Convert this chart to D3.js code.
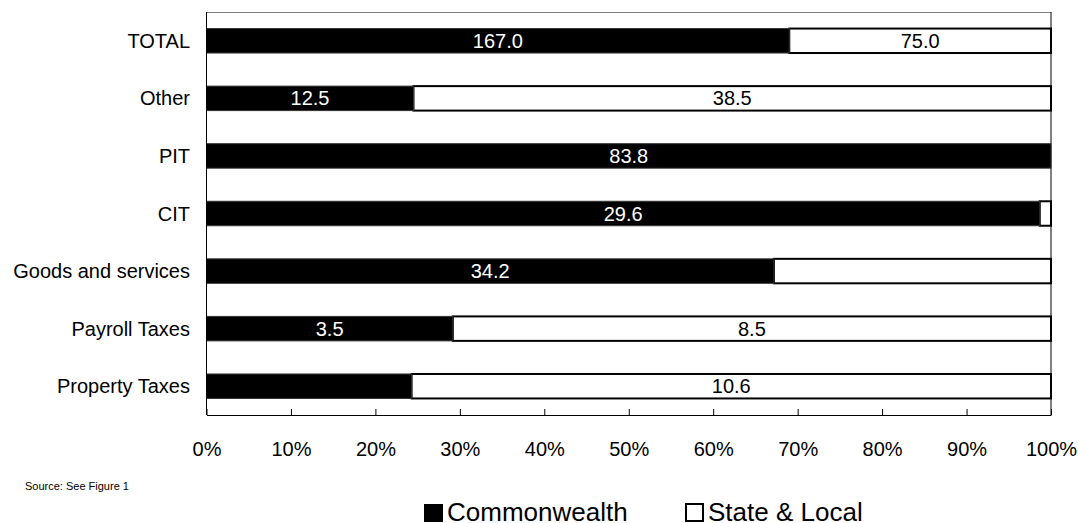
<!DOCTYPE html>
<html>
<head>
<meta charset="utf-8">
<script src="https://cdn.jsdelivr.net/npm/d3@7"></script>
<style>
  html, body { margin: 0; padding: 0; background: #fff; }
  svg { display: block; font-family: "Liberation Sans", Arial, sans-serif; }
</style>
</head>
<body>
<svg id="chart" width="1078" height="523"></svg>
<script>
// categories, top to bottom
var categories = ["TOTAL", "Other", "PIT", "CIT", "Goods and services", "Payroll Taxes", "Property Taxes"];
// revenue by level of government
var commonwealth = [167.0, 12.5, 83.8, 29.6, 34.2, 3.5, 3.4];
var stateLocal = [75.0, 38.5, 0.0, 0.4, 16.7, 8.5, 10.6];
// value labels shown on the bars (blank = not shown)
var comLabels = ["167.0", "12.5", "83.8", "29.6", "34.2", "3.5", ""];
var stateLabels = ["75.0", "38.5", "", "", "", "8.5", "10.6"];
var ticks = [0, 0.1, 0.2, 0.3, 0.4, 0.5, 0.6, 0.7, 0.8, 0.9, 1];
var seriesNames = ["Commonwealth", "State & Local"];

var svg = d3.select("#chart");
// plot box
var pLeft = 206.5, pRight = 1051, pTop = 12, pBottom = 415;

var x = d3.scaleLinear().domain([0, 1]).range([pLeft, pRight]);
var y = d3.scaleBand().domain(categories).range([pTop, pBottom])
  .paddingInner(0.575).paddingOuter(0.2875);

// build stacked shares
var rows = categories.map(function(c, i) {
  var tot = commonwealth[i] + stateLocal[i];
  return {
    cat: c,
    com: commonwealth[i] / tot,
    comLabel: comLabels[i],
    stLabel: stateLabels[i]
  };
});

// frame: top and right borders
svg.append("line").attr("x1", pLeft).attr("x2", pRight).attr("y1", pTop + 0.5).attr("y2", pTop + 0.5)
  .attr("stroke", "#808080").attr("stroke-width", 1);
svg.append("line").attr("x1", pRight).attr("x2", pRight).attr("y1", pTop).attr("y2", pBottom)
  .attr("stroke", "#000").attr("stroke-width", 1);

// bars
var g = svg.append("g");
var bh = y.bandwidth();

g.selectAll("rect.st").data(rows).enter().append("rect")
  .attr("class", "st")
  .attr("x", function(d) { return x(d.com); })
  .attr("y", function(d) { return y(d.cat); })
  .attr("width", function(d) { return x(1) - x(d.com); })
  .attr("height", bh)
  .attr("fill", "#fff")
  .attr("stroke", "#000")
  .attr("stroke-width", 2);

g.selectAll("rect.com").data(rows).enter().append("rect")
  .attr("class", "com")
  .attr("x", x(0))
  .attr("y", function(d) { return y(d.cat); })
  .attr("width", function(d) { return x(d.com) - x(0); })
  .attr("height", bh)
  .attr("fill", "#000")
  .attr("stroke", "#333")
  .attr("stroke-width", 1);

// value labels
g.selectAll("text.comv").data(rows).enter().append("text")
  .attr("class", "comv")
  .attr("x", function(d) { return (x(0) + x(d.com)) / 2; })
  .attr("y", function(d) { return y(d.cat) + bh / 2 + 7; })
  .attr("text-anchor", "middle")
  .attr("font-size", 20)
  .attr("fill", "#fff")
  .text(function(d) { return d.comLabel; });

g.selectAll("text.stv").data(rows).enter().append("text")
  .attr("class", "stv")
  .attr("x", function(d) { return (x(d.com) + x(1)) / 2; })
  .attr("y", function(d) { return y(d.cat) + bh / 2 + 7; })
  .attr("text-anchor", "middle")
  .attr("font-size", 20)
  .attr("fill", "#000")
  .text(function(d) { return d.stLabel; });

// category labels
svg.selectAll("text.cat").data(categories).enter().append("text")
  .attr("class", "cat")
  .attr("x", 190)
  .attr("y", function(d) { return y(d) + bh / 2 + 7; })
  .attr("text-anchor", "end")
  .attr("font-size", 20)
  .attr("fill", "#000")
  .text(function(d) { return d; });

// left axis line
svg.append("line").attr("x1", pLeft).attr("x2", pLeft).attr("y1", pTop).attr("y2", pBottom)
  .attr("stroke", "#000").attr("stroke-width", 1);

// x axis, ticks pointing up into the plot
var xAxis = d3.axisBottom(x).tickValues(ticks).tickSizeInner(-6).tickSizeOuter(0)
  .tickPadding(0).tickFormat(d3.format(".0%"));
var ax = svg.append("g").attr("transform", "translate(0," + pBottom + ")").call(xAxis);
ax.select(".domain").attr("stroke", "#000");
ax.selectAll(".tick line").attr("stroke", "#000");
ax.selectAll(".tick text")
  .attr("y", 41)
  .attr("dy", null)
  .attr("font-size", 20)
  .attr("font-family", "Liberation Sans, Arial, sans-serif")
  .attr("fill", "#000");

// source note
svg.append("text").attr("x", 25).attr("y", 490)
  .attr("font-size", 11).attr("fill", "#000")
  .text("Source: See Figure 1");

// legend
var legX = [424, 685];
var leg = svg.selectAll("g.leg").data(seriesNames).enter().append("g")
  .attr("class", "leg")
  .attr("transform", function(d, i) { return "translate(" + legX[i] + ",503)"; });
leg.append("rect")
  .attr("x", function(d, i) { return i === 0 ? 0 : 1; })
  .attr("y", 1)
  .attr("width", function(d, i) { return i === 0 ? 19 : 17; })
  .attr("height", function(d, i) { return i === 0 ? 18 : 17; })
  .attr("fill", function(d, i) { return i === 0 ? "#000" : "#fff"; })
  .attr("stroke", "#000")
  .attr("stroke-width", function(d, i) { return i === 0 ? 0 : 2; });
leg.append("text")
  .attr("x", 23)
  .attr("y", 18)
  .attr("font-size", 26)
  .attr("fill", "#000")
  .text(function(d) { return d; });
</script>
</body>
</html>
